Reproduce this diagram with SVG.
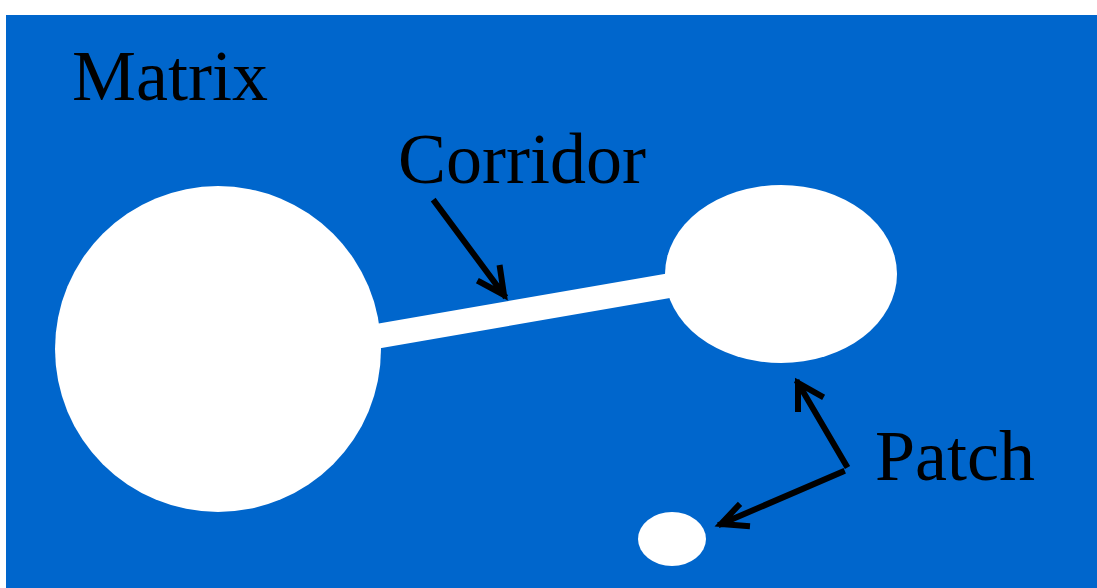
<svg xmlns="http://www.w3.org/2000/svg" width="1097" height="588" viewBox="0 0 1097 588">
<style>
.lbl{font-family:"Liberation Serif","Times New Roman",serif;font-size:72px;fill:#000}
.patch{fill:#fff}
.arr{stroke:#000;stroke-width:6;fill:none;stroke-linecap:square;stroke-linejoin:miter}
</style>
<rect x="0" y="0" width="1097" height="588" fill="#fff"/>
<rect x="6" y="15" width="1091" height="573" fill="#0066CC"/>
<g id="matrix-label"><text class="lbl" x="72" y="100">Matrix</text></g>
<g id="patch-large"><circle class="patch" cx="218" cy="349" r="163"/></g>
<g id="corridor"><polygon class="patch" points="370,325 670,273 670,298 370,350"/></g>
<g id="patch-medium"><ellipse class="patch" cx="781" cy="274" rx="116" ry="89"/></g>
<g id="patch-small"><ellipse class="patch" cx="672" cy="539" rx="34" ry="27"/></g>
<g id="corridor-label"><text class="lbl" x="398" y="183">Corridor</text></g>
<g id="patch-label"><text class="lbl" x="875" y="480">Patch</text></g>
<g id="connectors">
<path class="arr" d="M435,202 L504,295 M480,282 L504,295 L500,268"/>
<path class="arr" d="M846,465 L798,383 M798,409 L798,383 L821,396"/>
<path class="arr" d="M842,472 L721,524 M738,506 L721,524 L747,526"/>
</g>
</svg>
